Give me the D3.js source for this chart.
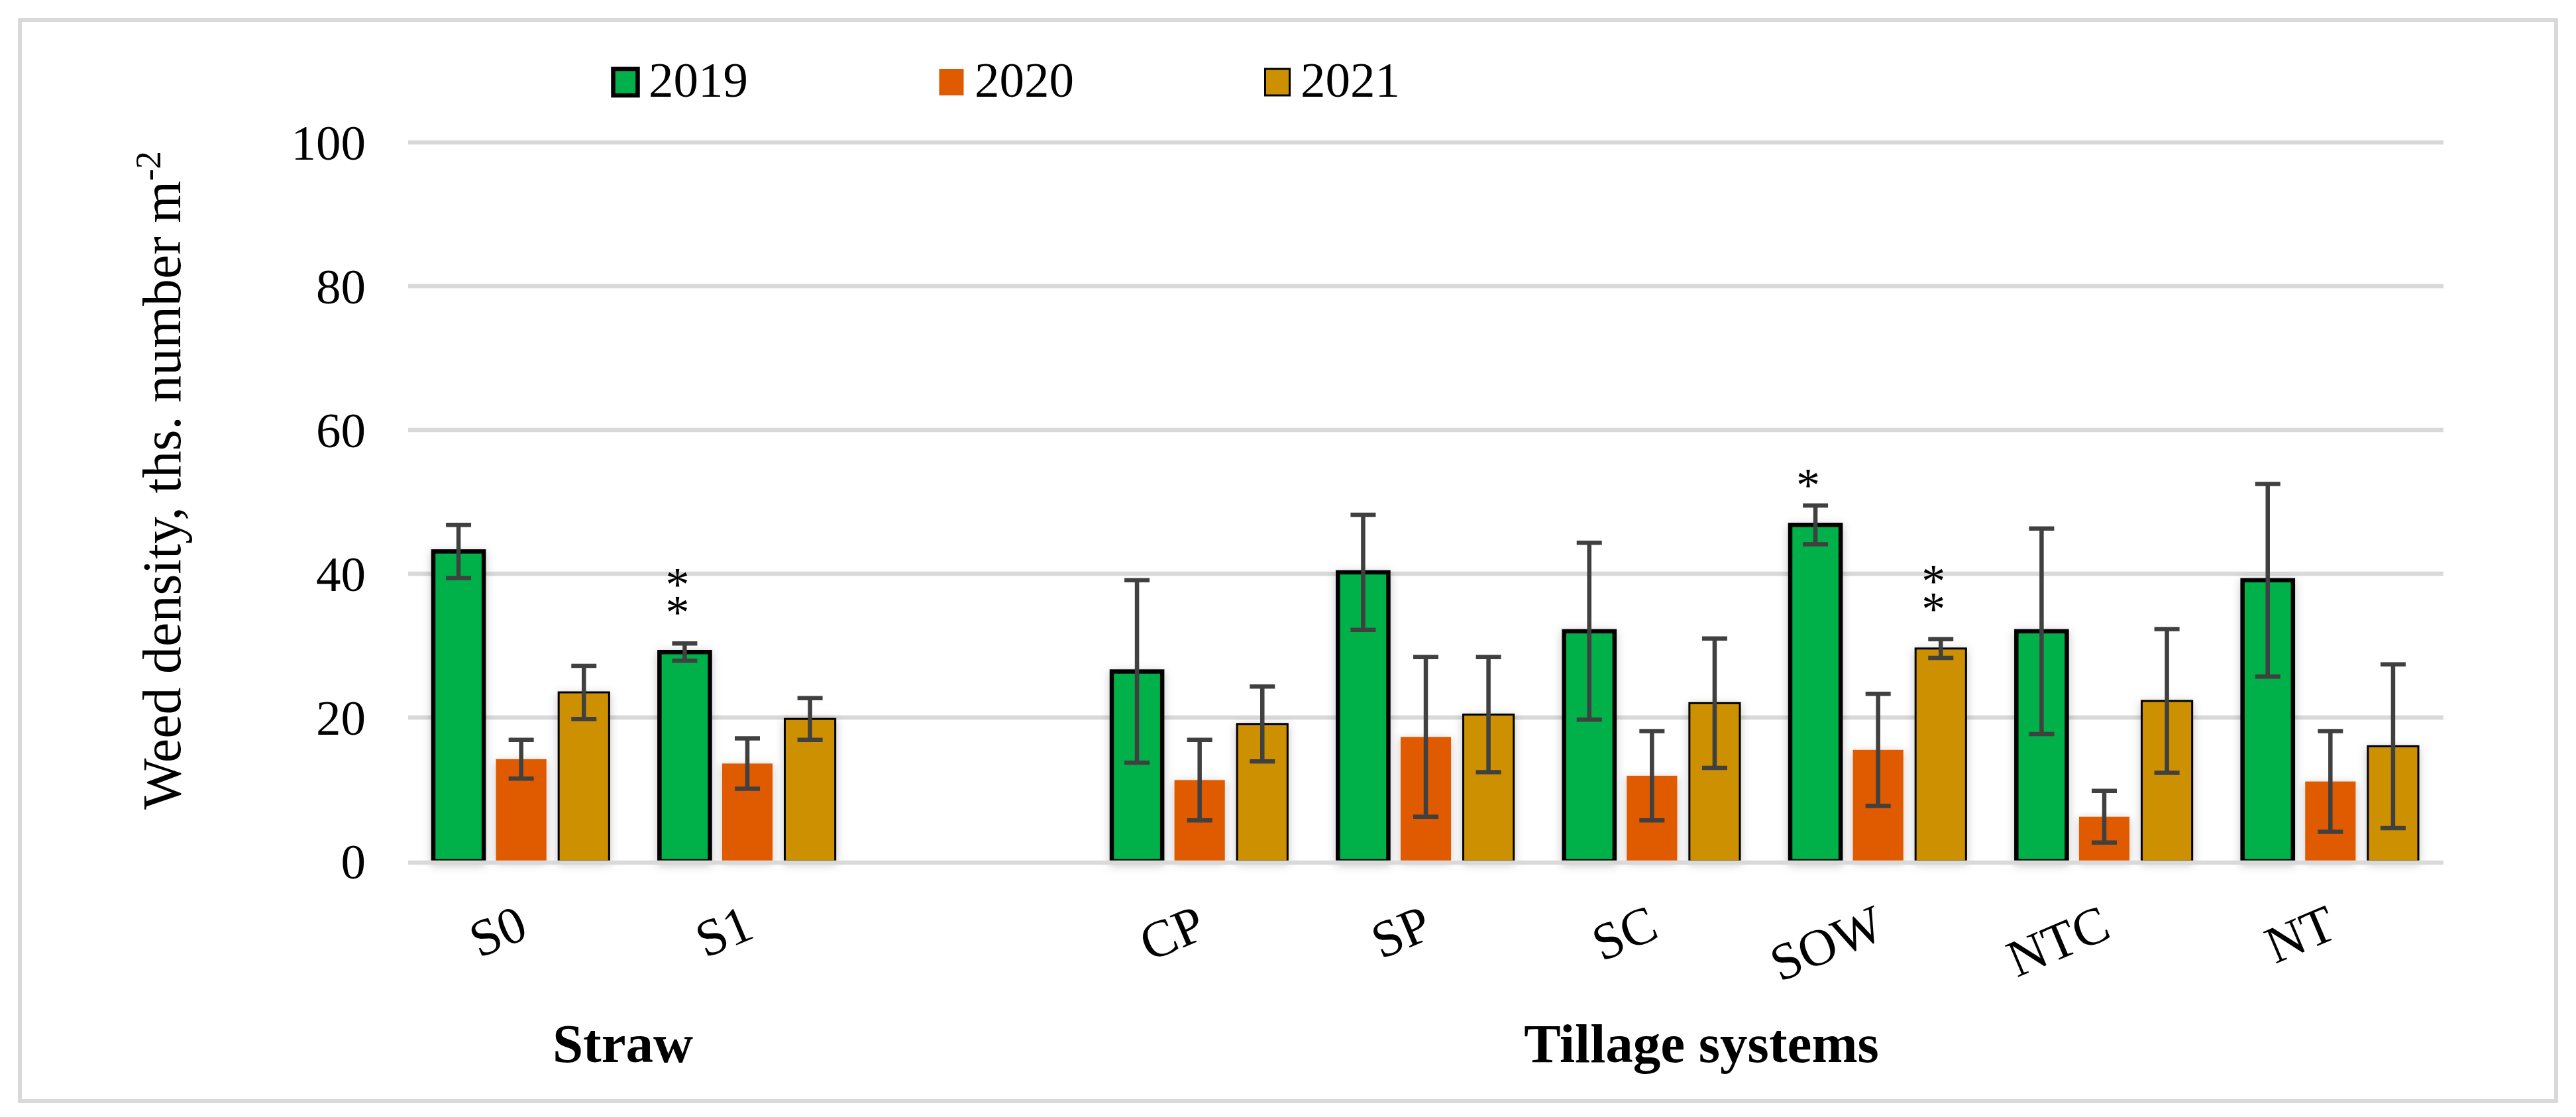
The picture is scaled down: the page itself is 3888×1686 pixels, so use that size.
<!DOCTYPE html>
<html>
<head>
<meta charset="utf-8">
<script src="https://cdn.jsdelivr.net/npm/d3@7/dist/d3.min.js"></script>
<style>
  html, body { margin: 0; padding: 0; background: #fff; }
  svg { display: block; }
  text { font-family: "Liberation Serif", "Times New Roman", serif; fill: #000; }
</style>
</head>
<body>
<svg id="chart" width="3888" height="1686"></svg>
<script>
// ---- data ----
const categories = ["S0", "S1", "", "CP", "SP", "SC", "SOW", "NTC", "NT"];
const dataCategories = ["S0", "S1", "CP", "SP", "SC", "SOW", "NTC", "NT"];
const series = ["2019", "2020", "2021"];
const values2019 = [43.1, 29.1, 26.4, 40.2, 32.0, 46.8, 32.0, 39.1];
const values2020 = [14.2, 13.6, 11.3, 17.3, 11.9, 15.5, 6.2, 11.1];
const values2021 = [23.5, 19.8, 19.1, 20.4, 22.0, 29.6, 22.3, 16.0];
const errors2019 = [3.7, 1.2, 12.7, 8.0, 12.3, 2.7, 14.3, 13.4];
const errors2020 = [2.7, 3.5, 5.6, 11.1, 6.2, 7.8, 3.6, 7.0];
const errors2021 = [3.7, 2.9, 5.2, 8.0, 9.0, 1.3, 10.0, 11.4];
const yTicks = [0, 20, 40, 60, 80, 100];
const groupLabels = ["Straw", "Tillage systems"];
// significance marks: category, series, lines of "*", level of the top star (axis units)
const marks = [
  { cat: "S1", ser: "2019", lines: ["*", "*"], level: 39.4 },
  { cat: "SOW", ser: "2019", lines: ["*"], level: 53.3 },
  { cat: "SOW", ser: "2021", lines: ["*", "*"], level: 39.9 }
];

const valueBySeries = { "2019": values2019, "2020": values2020, "2021": values2021 };
const errorBySeries = { "2019": errors2019, "2020": errors2020, "2021": errors2021 };
const fillBySeries = { "2019": "#00b04a", "2020": "#e05a00", "2021": "#cd9000" };
const strokeBySeries = { "2019": "#000", "2020": "none", "2021": "#000" };
const strokeWBySeries = { "2019": 6.5, "2020": 0, "2021": 3 };

const rows = [];
dataCategories.forEach((c, i) => {
  series.forEach(s => {
    rows.push({ cat: c, ser: s, v: valueBySeries[s][i], e: errorBySeries[s][i] });
  });
});

// ---- layout ----
const svg = d3.select("#chart");
const W = 3888, H = 1686;
const plotL = 616, plotR = 3688, plotT = 215, plotB = 1300;

svg.append("rect").attr("x", 0).attr("y", 0).attr("width", W).attr("height", H).attr("fill", "#fff");
svg.append("rect").attr("x", 30).attr("y", 30).attr("width", 3828).attr("height", 1632)
  .attr("fill", "none").attr("stroke", "#d9d9d9").attr("stroke-width", 6);

const defs = svg.append("defs");
const f = defs.append("filter").attr("id", "shadow")
  .attr("x", "-30%").attr("y", "-10%").attr("width", "160%").attr("height", "130%");
f.append("feDropShadow").attr("dx", 0).attr("dy", 3).attr("stdDeviation", 7)
  .attr("flood-color", "#000").attr("flood-opacity", 0.22);

const x0 = d3.scaleBand().domain(categories).range([plotL, plotR]).paddingInner(0).paddingOuter(0);
const x1 = d3.scaleBand().domain(series).range([38, x0.bandwidth() - 38]).paddingInner(0.195).paddingOuter(0);
const y = d3.scaleLinear().domain([0, 100]).range([plotB, plotT]);

// gridlines (non-zero behind bars)
const yAxis = d3.axisLeft(y).tickValues(yTicks).tickSize(0).tickPadding(0).tickFormat(d3.format("d"));
const grid = svg.append("g").attr("class", "grid");
grid.selectAll("line").data(yTicks.filter(t => t !== 0)).join("line")
  .attr("x1", plotL).attr("x2", plotR)
  .attr("y1", d => y(d)).attr("y2", d => y(d))
  .attr("stroke", "#d9d9d9").attr("stroke-width", 6.5);

// y tick labels via axis
const ax = svg.append("g").attr("transform", `translate(552,0)`).call(yAxis);
ax.select(".domain").remove();
ax.selectAll("text").attr("font-size", 75).attr("font-family", "Liberation Serif").attr("fill", "#000").attr("dy", "0.34em");

// bars
const barG = svg.append("g");
barG.selectAll("rect").data(rows).join("rect")
  .attr("x", d => x0(d.cat) + x1(d.ser))
  .attr("y", d => y(d.v))
  .attr("width", x1.bandwidth())
  .attr("height", d => y(0) - y(d.v))
  .attr("fill", d => fillBySeries[d.ser])
  .attr("stroke", d => strokeBySeries[d.ser])
  .attr("stroke-width", d => strokeWBySeries[d.ser])
  .attr("filter", "url(#shadow)");

// zero line on top
svg.append("line").attr("x1", plotL).attr("x2", plotR).attr("y1", y(0) + 2).attr("y2", y(0) + 2)
  .attr("stroke", "#d9d9d9").attr("stroke-width", 6.5);

// error bars
const errG = svg.append("g").attr("stroke", "#404040").attr("stroke-width", 6.5);
const cx = d => x0(d.cat) + x1(d.ser) + x1.bandwidth() / 2;
const capHalf = 19;
rows.forEach(d => {
  const c = cx(d);
  errG.append("line").attr("x1", c).attr("x2", c).attr("y1", y(d.v + d.e)).attr("y2", y(d.v - d.e));
  errG.append("line").attr("x1", c - capHalf).attr("x2", c + capHalf).attr("y1", y(d.v + d.e)).attr("y2", y(d.v + d.e));
  errG.append("line").attr("x1", c - capHalf).attr("x2", c + capHalf).attr("y1", y(d.v - d.e)).attr("y2", y(d.v - d.e));
});

// significance marks (stacked asterisks in one text element)
const starFs = 72, starGap = 42;
const mg = svg.append("g").selectAll("text").data(marks).join("text")
  .attr("text-anchor", "middle")
  .attr("font-size", starFs);
mg.each(function (d) {
  const sx = x0(d.cat) + x1(d.ser) + x1.bandwidth() / 2 - 11;
  const sy = y(d.level) + 0.47 * starFs;
  const t = d3.select(this);
  d.lines.forEach((l, i) => {
    t.append("tspan").attr("x", sx).attr("y", sy + i * starGap).text(l);
  });
});

// category labels (rotated)
svg.append("g").selectAll("text").data(categories.filter(c => c !== "")).join("text")
  .attr("transform", d => `translate(${x0(d) + x0.bandwidth() / 2 - 7},1366) rotate(-23)`)
  .attr("text-anchor", "end")
  .attr("dy", "0.66em")
  .attr("font-size", 79)
  .text(d => d);

// group labels
const groupX = [940, 2568];
svg.append("g").selectAll("text").data(groupLabels).join("text")
  .attr("x", (d, i) => groupX[i])
  .attr("y", 1603)
  .attr("text-anchor", "middle")
  .attr("font-size", 83)
  .attr("font-weight", "bold")
  .text(d => d);

// y axis title
const yt = svg.append("text")
  .attr("transform", "translate(272,725) rotate(-90)")
  .attr("text-anchor", "middle")
  .attr("font-size", 82);
yt.append("tspan").text("Weed density, ths. number m");
yt.append("tspan").attr("dy", -30).attr("font-size", 54).text("-2");

// legend
const legend = svg.append("g");
series.forEach((s, i) => {
  const lx = 944 + i * 492;
  legend.append("rect")
    .attr("x", lx - 18.5).attr("y", 104).attr("width", 37).attr("height", 40)
    .attr("fill", fillBySeries[s])
    .attr("stroke", strokeBySeries[s])
    .attr("stroke-width", strokeWBySeries[s]);
  legend.append("text").attr("x", lx + 35).attr("y", 146).attr("font-size", 75).text(s);
});
</script>
</body>
</html>
